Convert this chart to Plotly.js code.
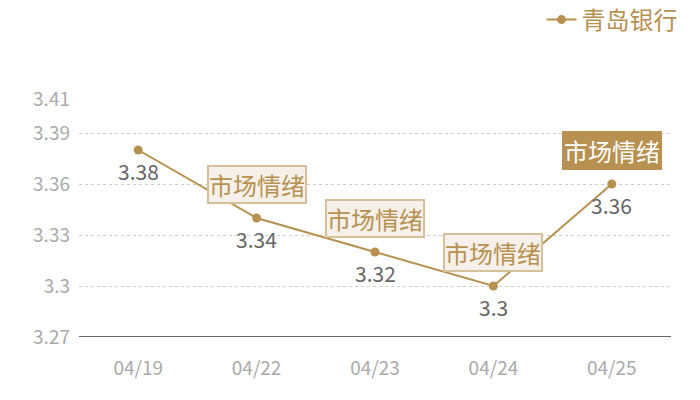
<!DOCTYPE html>
<html>
<head>
<meta charset="utf-8">
<script src="https://cdn.plot.ly/plotly-3.0.1.min.js"></script>
<style>
  html, body { margin: 0; padding: 0; background: #fff; }
  #chart { width: 700px; height: 400px; }
</style>
</head>
<body>
<div id="chart"></div>
<script>
var dates = ['04/19', '04/22', '04/23', '04/24', '04/25'];
var prices = [3.38, 3.34, 3.32, 3.30, 3.36];
var priceLabels = ['3.38', '3.34', '3.32', '3.3', '3.36'];
var yTicks = [3.27, 3.30, 3.33, 3.36, 3.39, 3.41];
var yTickText = ['3.27', '3.3', '3.33', '3.36', '3.39', '3.41'];
var moodDates = ['04/22', '04/23', '04/24', '04/25'];
var moodPrices = [3.34, 3.32, 3.30, 3.36];
var moodText = '市场情绪';

var gold = '#b8904f';
var font = '"Noto Sans CJK SC", "Noto Sans", sans-serif';

var trace = {
    x: dates,
    y: prices,
    mode: 'lines+markers',
    type: 'scatter',
    name: '青岛银行',
    line: { color: gold, width: 2 },
    marker: { color: gold, size: 9 },
    cliponaxis: false
};

// value labels under each point
var annotations = dates.map(function (d, i) {
    return {
        x: d,
        y: prices[i],
        xref: 'x',
        yref: 'y',
        text: priceLabels[i],
        showarrow: false,
        yshift: -21,
        font: { family: font, size: 21, color: '#666666' }
    };
});

// "市场情绪" tags above the points
moodDates.forEach(function (d, i) {
    var last = i === moodDates.length - 1;
    annotations.push({
        x: d,
        y: moodPrices[i],
        xref: 'x',
        yref: 'y',
        text: moodText,
        showarrow: false,
        yshift: 34,
        font: { family: font, size: 24, color: last ? '#ffffff' : gold },
        bgcolor: last ? gold : '#f5f0e9',
        bordercolor: last ? gold : '#d6c09a',
        borderwidth: 2,
        borderpad: 0
    });
});

var layout = {
    width: 700,
    height: 400,
    margin: { l: 79, r: 29, t: 99, b: 63, autoexpand: false },
    paper_bgcolor: '#ffffff',
    plot_bgcolor: '#ffffff',
    font: { family: font },
    showlegend: true,
    legend: {
        x: 0.975, xanchor: 'right', xref: 'container',
        y: 0.95, yanchor: 'middle', yref: 'container',
        font: { family: font, size: 24, color: gold },
        itemwidth: 30
    },
    xaxis: {
        type: 'category',
        range: [-0.5, 4.5],
        showgrid: false,
        zeroline: false,
        showline: false,
        ticks: '',
        tickfont: { family: font, size: 19, color: '#aaaaaa' },
        ticklabelstandoff: 18
    },
    yaxis: {
        range: [3.27, 3.41],
        tickvals: yTicks,
        ticktext: yTickText,
        showgrid: true,
        gridcolor: '#cccccc',
        griddash: 'dot',
        gridwidth: 1,
        zeroline: false,
        showline: false,
        ticks: '',
        tickfont: { family: font, size: 19, color: '#aaaaaa' },
        ticklabelstandoff: 8
    },
    shapes: [{
        type: 'line', xref: 'paper', yref: 'y',
        x0: 0, x1: 1, y0: 3.27, y1: 3.27,
        line: { color: '#333333', width: 1.5 }
    }],
    annotations: annotations
};

Plotly.newPlot('chart', [trace], layout, { displayModeBar: false, staticPlot: true });
</script>
</body>
</html>
